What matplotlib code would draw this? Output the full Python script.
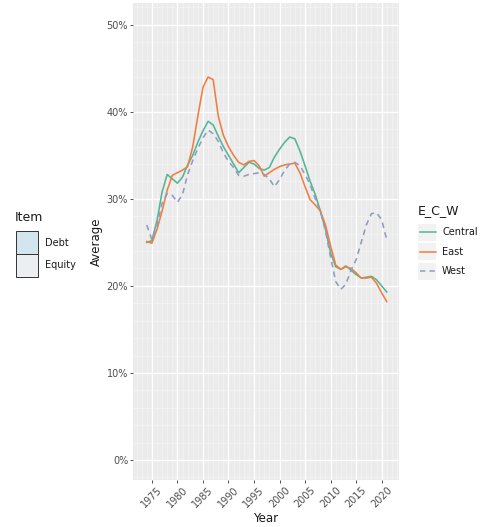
import numpy as np
import matplotlib
matplotlib.use("Agg")
import matplotlib.pyplot as plt
from matplotlib.lines import Line2D
from matplotlib.patches import Rectangle
from matplotlib.ticker import MultipleLocator, FuncFormatter

years = list(range(1974, 2022))

central = [25.0, 25.2, 27.5, 30.8, 32.8, 32.3, 31.8, 32.5, 33.9, 35.0,
           36.5, 37.8, 38.9, 38.5, 37.2, 36.0, 35.0, 34.0, 33.0, 33.6,
           34.2, 34.0, 33.5, 33.3, 33.6, 34.8, 35.7, 36.5, 37.1, 36.9,
           35.5, 33.8, 32.0, 30.5, 28.6, 26.5, 23.8, 22.2, 21.9, 22.3,
           21.8, 21.3, 20.9, 21.0, 21.1, 20.7, 20.0, 19.3]
east = [25.1, 24.9, 26.5, 28.6, 31.0, 32.7, 33.0, 33.3, 33.7, 36.0,
        39.5, 42.8, 44.0, 43.7, 39.5, 37.3, 36.0, 35.0, 34.2, 33.9,
        34.3, 34.4, 33.8, 32.6, 33.0, 33.4, 33.7, 33.9, 34.0, 34.1,
        33.0, 31.4, 29.9, 29.3, 28.6, 27.0, 24.6, 22.4, 21.9, 22.2,
        22.0, 21.5, 20.9, 20.9, 21.0, 20.3, 19.2, 18.2]
west = [27.0, 25.3, 27.0, 29.5, 30.6, 30.4, 29.6, 30.5, 32.8, 34.4,
        35.8, 37.0, 37.9, 37.5, 36.6, 35.3, 34.3, 33.6, 32.7, 32.6,
        32.8, 32.9, 33.0, 32.8, 32.3, 31.4, 32.2, 33.3, 34.0, 34.2,
        33.8, 32.8, 31.6, 30.0, 28.6, 26.3, 23.3, 20.5, 19.6, 20.2,
        21.8, 23.0, 25.0, 27.0, 28.3, 28.4, 27.6, 25.3]

series_names = ["Central", "East", "West"]
series_colors = ["#52B694", "#F07E3F", "#8F9BC4"]
series_styles = ["-", "-", (0, (3.5, 2.7))]

item_labels = ["Debt", "Equity"]
item_colors = ["#D3E5EE", "#ECEFF1"]

W, H = 486, 527
fig = plt.figure(figsize=(W / 100, H / 100), dpi=100)
fig.patch.set_facecolor("white")

ax = fig.add_axes([133 / W, 1 - 480 / H, 266 / W, 477 / H])
ax.set_facecolor("#EBEBEB")
for s in ax.spines.values():
    s.set_visible(False)

for vals, name, col, ls in zip([central, east, west], series_names, series_colors, series_styles):
    ax.plot(years, np.array(vals) / 100, color=col, lw=1.15, linestyle=ls,
            solid_joinstyle="round", label=name)

ax.set_xlim(1971.3, 2023.4)
ax.set_ylim(-0.023, 0.525)
ax.xaxis.set_minor_locator(MultipleLocator(1))
ax.yaxis.set_major_locator(MultipleLocator(0.1))
ax.yaxis.set_minor_locator(MultipleLocator(0.02))
ax.yaxis.set_major_formatter(FuncFormatter(lambda v, p: f"{v * 100:.0f}%"))
ax.set_xticks(range(1975, 2021, 5))
ax.grid(which="major", color="white", lw=1.0)
ax.grid(which="minor", color="#F7F7F7", lw=0.4)
ax.set_axisbelow(True)
ax.tick_params(which="major", length=2.5, width=0.6, color="#333333",
               labelsize=7, labelcolor="#4D4D4D", pad=1)
ax.tick_params(which="minor", length=0)
for lab in ax.get_xticklabels():
    lab.set_rotation(45)
    lab.set_ha("center")
    lab.set_va("top")

ax.set_xlabel("Year", fontsize=8.5, color="#1A1A1A", labelpad=2)
ax.set_ylabel("Average", fontsize=8.5, color="#1A1A1A", labelpad=3)

# right legend (E_C_W)
fig.text(418 / W, 1 - 211 / H, "E_C_W", fontsize=9, va="center", ha="left", color="#1A1A1A")
for i, (name, col, ls) in enumerate(zip(series_names, series_colors, series_styles)):
    yc = 1 - (232 + 19.5 * i) / H
    fig.add_artist(Rectangle((418 / W, yc - 8.5 / H), 18 / W, 17 / H,
                             transform=fig.transFigure, facecolor="#F2F2F2", edgecolor="none"))
    fig.add_artist(Line2D([420 / W, 436 / W], [yc, yc], transform=fig.transFigure,
                          color=col, lw=1.1, linestyle=ls))
    fig.text(442 / W, yc, name, fontsize=7, va="center", ha="left", color="#1A1A1A")

# left legend (Item)
fig.text(15 / W, 1 - 218 / H, "Item", fontsize=9, va="center", ha="left", color="#1A1A1A")
for i, (lab, col) in enumerate(zip(item_labels, item_colors)):
    top = 231 + 23 * i
    fig.add_artist(Rectangle((16 / W, 1 - (top + 23) / H), 22 / W, 23 / H,
                             transform=fig.transFigure, facecolor=col,
                             edgecolor="#333333", lw=0.7))
    fig.text(45 / W, 1 - (top + 11.5) / H, lab, fontsize=7, va="center", ha="left", color="#1A1A1A")

fig.savefig("out.png", dpi=100)
